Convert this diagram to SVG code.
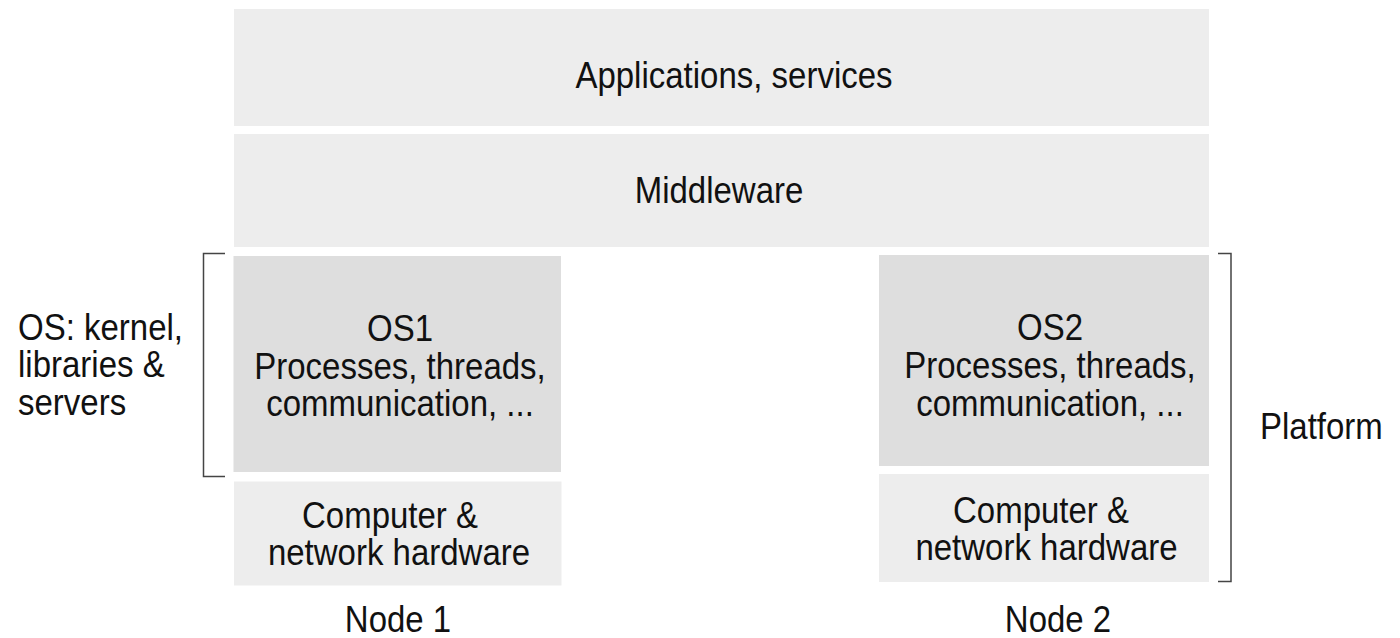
<svg xmlns="http://www.w3.org/2000/svg" width="1400" height="638" viewBox="0 0 1400 638">
<style>
.light{fill:#ededed}
.dark{fill:#dedede}
.t{font-family:"Liberation Sans",Arial,sans-serif;font-size:33px;fill:#111;text-anchor:middle}
.l{font-family:"Liberation Sans",Arial,sans-serif;font-size:33px;fill:#111;text-anchor:start}
.br{fill:none;stroke:#444;stroke-width:1.5}
</style>
<rect width="1400" height="638" fill="#fff"/>
<g id="applications">
<rect class="light" x="234" y="9" width="975" height="117"/>
<text class="t" transform="translate(734,87.5) scale(1,1.12)">Applications, services</text>
</g>
<g id="middleware">
<rect class="light" x="234" y="134" width="975" height="113"/>
<text class="t" transform="translate(719,202.5) scale(1,1.12)">Middleware</text>
</g>
<g id="os1">
<rect class="dark" x="233.5" y="256" width="327.5" height="216"/>
<text class="t" transform="translate(400,341) scale(1,1.12)"><tspan x="0" y="0">OS1</tspan><tspan x="0" dy="33.5">Processes, threads,</tspan><tspan x="0" dy="33.5">communication, ...</tspan></text>
</g>
<g id="hw1">
<rect class="light" x="234" y="481.5" width="327.5" height="104"/>
<text class="t" transform="translate(399,527.5) scale(1,1.12)"><tspan x="-9" y="0">Computer &amp;</tspan><tspan x="0" dy="33.5">network hardware</tspan></text>
</g>
<g id="os2">
<rect class="dark" x="879" y="255" width="330" height="211"/>
<text class="t" transform="translate(1050,340) scale(1,1.12)"><tspan x="0" y="0">OS2</tspan><tspan x="0" dy="33.8">Processes, threads,</tspan><tspan x="0" dy="33.8">communication, ...</tspan></text>
</g>
<g id="hw2">
<rect class="light" x="879" y="474" width="330" height="108"/>
<text class="t" transform="translate(1046.5,522.5) scale(1,1.12)"><tspan x="-5.5" y="0">Computer &amp;</tspan><tspan x="0" dy="33.5">network hardware</tspan></text>
</g>
<g id="node1-label">
<text class="t" transform="translate(398,631.5) scale(1,1.12)">Node 1</text>
</g>
<g id="node2-label">
<text class="t" transform="translate(1058,631.5) scale(1,1.12)">Node 2</text>
</g>
<g id="os-label">
<text class="l" transform="translate(18,339.5) scale(1,1.12)"><tspan x="0" y="0">OS: kernel,</tspan><tspan x="0" dy="33.5">libraries &amp;</tspan><tspan x="0" dy="33.9">servers</tspan></text>
</g>
<g id="platform-label">
<text class="l" transform="translate(1260,439) scale(1,1.12)">Platform</text>
</g>
<g id="connectors">
<path class="br" d="M225,253.5 H203.5 V476.5 H225"/>
<path class="br" d="M1218,253.5 H1231 V581.5 H1218"/>
</g>
</svg>
